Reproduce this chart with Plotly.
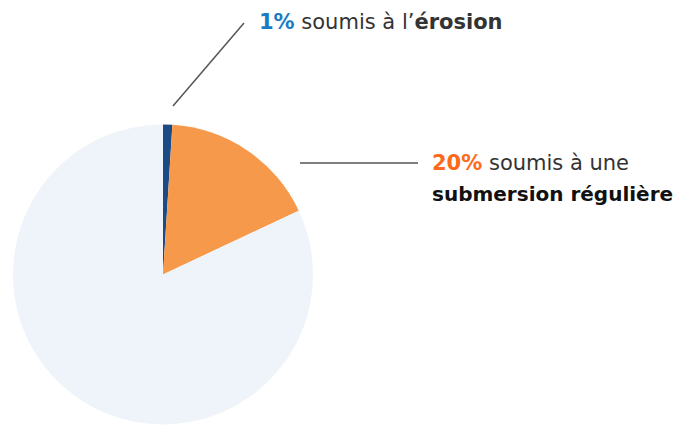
import plotly.graph_objects as go

# Data
categories = ["Érosion", "Submersion régulière", "Autre"]
values = [1, 17, 82]
label_pcts = ["1%", "20%"]
colors = ["#1b4a85", "#f7994a", "#eef4fa"]

W, H = 690, 425
OFF = 8  # page body margin

def px(x):
    return (x - OFF) / W

def py(y):
    return 1 - (y - OFF) / H

fig = go.Figure()
fig.add_trace(go.Pie(
    labels=categories,
    values=values,
    sort=False,
    direction="clockwise",
    rotation=0,
    textinfo="none",
    hoverinfo="label+percent",
    marker=dict(colors=colors, line=dict(width=0)),
    domain=dict(x=[px(13), px(313)], y=[py(425), py(124)]),
    showlegend=False,
))

FONT = "DejaVu Sans"
fs = 21

fig.add_annotation(
    x=px(257), y=py(22), xref="paper", yref="paper",
    xanchor="left", yanchor="middle", showarrow=False,
    text=f"<span style='color:#1a7bc4'><b>{label_pcts[0]}</b></span> soumis à l’<b>érosion</b>",
    font=dict(family=FONT, size=fs, color="#333333"),
)
fig.add_annotation(
    x=px(430), y=py(163), xref="paper", yref="paper",
    xanchor="left", yanchor="middle", showarrow=False,
    text=f"<span style='color:#fe6a1c'><b>{label_pcts[1]}</b></span> soumis à une",
    font=dict(family=FONT, size=fs, color="#333333"),
)
fig.add_annotation(
    x=px(430), y=py(194), xref="paper", yref="paper",
    xanchor="left", yanchor="middle", showarrow=False,
    text="<b>submersion régulière</b>",
    font=dict(family=FONT, size=20, color="#111111"),
)

fig.add_shape(type="line", xref="paper", yref="paper",
              x0=px(173), y0=py(106), x1=px(244), y1=py(23),
              line=dict(color="#555555", width=1.5))
fig.add_shape(type="line", xref="paper", yref="paper",
              x0=px(300), y0=py(163), x1=px(418), y1=py(163),
              line=dict(color="#555555", width=1.5))

fig.update_layout(
    width=W, height=H,
    margin=dict(l=0, r=0, t=0, b=0),
    paper_bgcolor="white",
    plot_bgcolor="white",
)

fig.write_html("out.html")
